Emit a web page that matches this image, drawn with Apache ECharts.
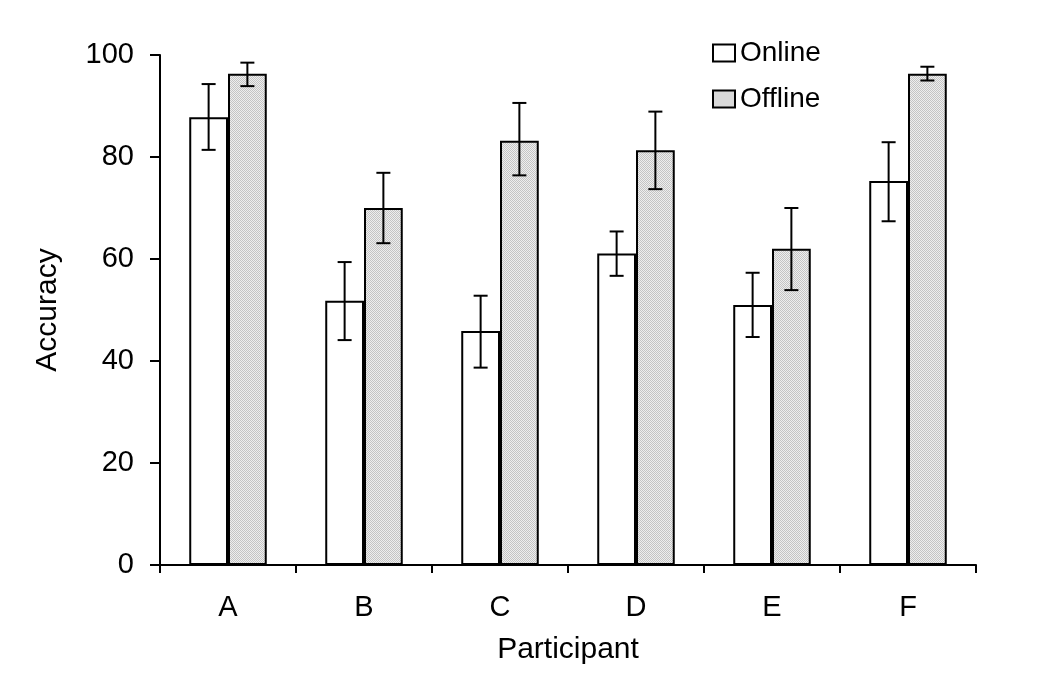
<!DOCTYPE html>
<html>
<head>
<meta charset="utf-8">
<script src="https://cdn.jsdelivr.net/npm/echarts@6/dist/echarts.min.js"></script>
<style>html,body{margin:0;padding:0;background:#fff}#c{width:1050px;height:685px}</style>
</head>
<body>
<div id="c"></div>
<script>
const categories = ['A', 'B', 'C', 'D', 'E', 'F'];
const seriesNames = ['Online', 'Offline'];
const onlineMean = [87.8, 51.8, 45.9, 61.1, 51.0, 75.3];
const onlineErrLow = [81.4, 44.1, 38.7, 56.7, 44.7, 67.4];
const onlineErrHigh = [94.3, 59.4, 52.8, 65.4, 57.3, 82.9];
const offlineMean = [96.3, 70.0, 83.2, 81.3, 62.0, 96.3];
const offlineErrLow = [93.9, 63.1, 76.4, 73.7, 53.9, 95.0];
const offlineErrHigh = [98.5, 76.9, 90.6, 88.9, 70.0, 97.7];
const yTicks = [0, 20, 40, 60, 80, 100];

// dotted gray pattern fill
const pc = document.createElement('canvas');
pc.width = 2; pc.height = 2;
const pctx = pc.getContext('2d');
pctx.fillStyle = '#eeeeee'; pctx.fillRect(0, 0, 2, 2);
pctx.fillStyle = '#c4c4c4'; pctx.fillRect(0, 0, 1, 1); pctx.fillRect(1, 1, 1, 1);
const patternFill = { image: pc, repeat: 'repeat' };

const FONT = '"Liberation Sans", Arial, sans-serif';
const BAR_FRAC = 0.285;

function errItem(sideSign) {
  return function (params, api) {
    const i = api.value(0);
    const lo = api.coord([i, api.value(1)]);
    const hi = api.coord([i, api.value(2)]);
    const bw = api.size([1, 0])[0] * BAR_FRAC;
    const x = lo[0] + sideSign * bw / 2;
    const cap = 7;
    const st = { stroke: '#000', lineWidth: 2 };
    return {
      type: 'group',
      children: [
        { type: 'line', shape: { x1: x, y1: hi[1], x2: x, y2: lo[1] }, style: st },
        { type: 'line', shape: { x1: x - cap, y1: hi[1], x2: x + cap, y2: hi[1] }, style: st },
        { type: 'line', shape: { x1: x - cap, y1: lo[1], x2: x + cap, y2: lo[1] }, style: st }
      ]
    };
  };
}

const chart = echarts.init(document.getElementById('c'), null, { renderer: 'canvas' });
chart.setOption({
  animation: false,
  backgroundColor: '#fff',
  textStyle: { fontFamily: FONT, color: '#000' },
  grid: { left: 160, right: 74, top: 55, bottom: 120, containLabel: false },
  legend: {
    data: seriesNames,
    orient: 'vertical',
    left: 707,
    top: 34,
    itemWidth: 22,
    itemHeight: 17,
    itemGap: 18,
    icon: 'rect',
    textStyle: { fontFamily: FONT, fontSize: 28, color: '#000', lineHeight: 28 }
  },
  xAxis: {
    type: 'category',
    data: categories,
    name: 'Participant',
    nameLocation: 'middle',
    nameGap: 70,
    nameTextStyle: { fontFamily: FONT, fontSize: 30, color: '#000' },
    axisLine: { lineStyle: { color: '#000', width: 2 } },
    axisTick: { show: true, length: 8, lineStyle: { color: '#000', width: 2 } },
    axisLabel: { fontFamily: FONT, fontSize: 29, color: '#000', margin: 28 },
    splitLine: { show: false }
  },
  yAxis: {
    type: 'value',
    min: yTicks[0],
    max: yTicks[yTicks.length - 1],
    interval: yTicks[1] - yTicks[0],
    name: 'Accuracy',
    nameLocation: 'middle',
    nameGap: 97,
    nameRotate: 90,
    nameTextStyle: { fontFamily: FONT, fontSize: 30, color: '#000' },
    axisLine: { show: true, lineStyle: { color: '#000', width: 2 } },
    axisTick: { show: true, length: 10, lineStyle: { color: '#000', width: 2 } },
    axisLabel: { fontFamily: FONT, fontSize: 29, color: '#000', margin: 26 },
    splitLine: { show: false }
  },
  series: [
    {
      name: seriesNames[0],
      type: 'bar',
      data: onlineMean,
      barGap: '0%',
      barCategoryGap: '43%',
      itemStyle: { color: '#fff', borderColor: '#000', borderWidth: 2 }
    },
    {
      name: seriesNames[1],
      type: 'bar',
      data: offlineMean,
      barGap: '0%',
      barCategoryGap: '43%',
      itemStyle: { color: patternFill, borderColor: '#000', borderWidth: 2 }
    },
    {
      type: 'custom',
      name: 'errOnline',
      renderItem: errItem(-1),
      data: categories.map((c, i) => [i, onlineErrLow[i], onlineErrHigh[i]]),
      z: 10,
      silent: true
    },
    {
      type: 'custom',
      name: 'errOffline',
      renderItem: errItem(1),
      data: categories.map((c, i) => [i, offlineErrLow[i], offlineErrHigh[i]]),
      z: 10,
      silent: true
    }
  ]
});
</script>
</body>
</html>
